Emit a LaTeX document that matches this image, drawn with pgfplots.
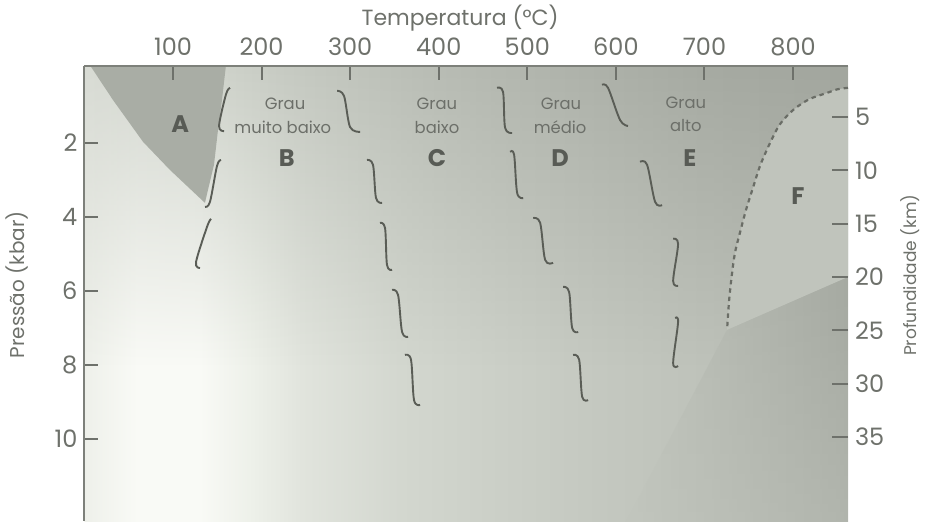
\documentclass[border=0pt]{standalone}
\usepackage{fontspec}
\setmainfont{Poppins}
\usepackage{pgfplots}
\pgfplotsset{compat=1.18}
\usetikzlibrary{fadings}

\definecolor{bg0}{HTML}{EEF0EA}
\definecolor{bg1}{HTML}{F9FAF6}
\definecolor{bg2}{HTML}{F9FAF6}
\definecolor{bg3}{HTML}{EDF0E9}
\definecolor{bg4}{HTML}{E1E4DD}
\definecolor{bg5}{HTML}{D3D7CF}
\definecolor{bg6}{HTML}{CBCFC7}
\definecolor{bg7}{HTML}{C4C8C0}
\definecolor{bg8}{HTML}{BEC2BA}
\definecolor{bg9}{HTML}{B6BAB2}
\pgfdeclarehorizontalshading{bgshade}{100bp}{color(0bp)=(bg0); color(25bp)=(bg0); color(28.48bp)=(bg1); color(32.54bp)=(bg2); color(36.02bp)=(bg3); color(39.21bp)=(bg4); color(45.65bp)=(bg5); color(52.26bp)=(bg6); color(58.64bp)=(bg7); color(65.6bp)=(bg8); color(75bp)=(bg9); color(100bp)=(bg9)}

\definecolor{tp0}{HTML}{D8DBD4}
\definecolor{tp1}{HTML}{D2D6CE}
\definecolor{tp2}{HTML}{C6CAC2}
\definecolor{tp3}{HTML}{B8BCB4}
\definecolor{tp4}{HTML}{AFB3AB}
\definecolor{tp5}{HTML}{A6AAA2}
\definecolor{tp6}{HTML}{A2A69E}
\pgfdeclarehorizontalshading{topshade}{100bp}{color(0bp)=(tp0); color(25bp)=(tp0); color(31.96bp)=(tp1); color(38.34bp)=(tp2); color(48.2bp)=(tp3); color(56.9bp)=(tp4); color(65.6bp)=(tp5); color(75bp)=(tp6); color(100bp)=(tp6)}

\tikzfading[name=fadedown, top color=transparent!0, bottom color=transparent!100]
\tikzfading[name=fadepart, top color=transparent!0, bottom color=transparent!70]

\definecolor{cA}{HTML}{A9ADA5}
\definecolor{cF}{HTML}{C0C4BC}
\definecolor{cDarkL}{HTML}{C1C5BD}
\definecolor{cDarkR}{HTML}{A6AAA2}
\definecolor{sqcol}{HTML}{5A5D56}
\definecolor{dashcol}{HTML}{6A6D66}
\definecolor{lblcol}{HTML}{6C6F69}
\definecolor{letcol}{HTML}{585B55}
\definecolor{tickcol}{HTML}{6E716B}
\definecolor{axcol}{HTML}{7D807A}

\newcommand{\fs}[1]{\fontsize{#1}{#1}\selectfont}
\tikzset{
  sqsty/.style={draw=sqcol, line width=0.95pt, smooth, tension=0.55},
  lblsty/.style={font=\fs{8.2}, text=lblcol, inner sep=0pt},
  letsty/.style={font=\fs{12}\bfseries, text=letcol, inner sep=0pt},
}
\newcommand{\sq}[4]{\addplot[sqsty, mark=none] coordinates {#1 #2 #3 #4};}

\begin{document}
\begin{tikzpicture}
\useasboundingbox (0,0) rectangle (462.5pt,260.5pt);
\begin{axis}[
  at={(42.2pt,0pt)}, anchor=south west,
  scale only axis, width=381.8pt, height=227.5pt,
  xmin=0, xmax=862, ymin=-0.08, ymax=12.22, y dir=reverse,
  axis x line*=top, axis y line*=left,
  axis line style={draw=axcol, line width=1pt, -},
  axis on top,
  xtick={100,200,...,800}, ytick={2,4,6,8,10},
  tick align=inside, major tick length=7pt,
  tick style={draw=tickcol, line width=1pt},
  /pgf/number format/assume math mode=true,
  ticklabel style={font=\fs{12}, text=tickcol},
  xticklabel style={yshift=1.5pt},
  xlabel={Temperatura (°C)},
  xlabel style={at={(axis description cs:0.492,1.105)}, anchor=center, font=\fs{11}, text=tickcol},
  ylabel={Pressão (kbar)},
  ylabel style={at={(axis description cs:-0.088,0.519)}, anchor=center, font=\fs{10}, text=tickcol},
]
% background
\addplot[draw=none, shading=bgshade, shading angle=0] coordinates {(0,-0.1) (862,-0.1) (862,12.3) (0,12.3)} -- cycle;
% darker top band
\addplot[draw=none, shading=topshade, shading angle=0, path fading=fadedown] coordinates {(0,-0.1) (862,-0.1) (862,8) (0,8)} -- cycle;
% darker area below F
\addplot[draw=none, left color=cDarkL, right color=cDarkR, path fading=fadepart] coordinates {(725.5,7.05) (862,5.62) (862,12.3) (610,12.3)} -- cycle;
% region A
\addplot[draw=none, fill=cA] coordinates {(6.3,-0.1) (32.3,0.84) (66.2,1.97) (96.6,2.73) (136.1,3.62) (139.5,3.27) (146.3,2.59) (150.8,1.65) (155.3,0.84) (159.8,-0.1)} -- cycle;
% region F
\addplot[draw=none, fill=cF] coordinates {(862,0.51) (850,0.55) (838,0.65) (818,0.82) (800,1.11) (785,1.5) (774,2.0) (763,2.6) (755,3.19) (747,3.8) (740,4.43) (735,4.9) (732,5.35) (728,6.2) (725.5,7.05) (862,5.62)} -- cycle;
% dashed boundary of F
\addplot[draw=dashcol, line width=1.1pt, dash pattern=on 2.2pt off 2pt, smooth, mark=none] coordinates {(862,0.51) (850,0.55) (838,0.65) (818,0.82) (800,1.11) (785,1.5) (774,2.0) (763,2.6) (755,3.19) (747,3.8) (740,4.43) (735,4.9) (732,5.35) (728,6.2) (725.5,7.05)};
% A/B
\sq{(164.4,0.51)}{(159.9,0.68)}{(151.97,1.54)}{(157.6,1.68)}
\sq{(154.2,2.46)}{(149.7,2.62)}{(141.8,3.59)}{(136.2,3.73)}
\sq{(142.9,4.05)}{(138.4,4.27)}{(126.0,5.22)}{(130.5,5.38)}
% B/C
\sq{(285.2,0.59)}{(293.1,0.73)}{(299.9,1.57)}{(311.2,1.70)}
\sq{(319.0,2.46)}{(325.8,2.59)}{(329.2,3.49)}{(336.0,3.62)}
\sq{(333.7,4.16)}{(339.4,4.30)}{(341.6,5.30)}{(347.3,5.43)}
\sq{(347.3,5.97)}{(354.1,6.11)}{(358.6,7.11)}{(365.4,7.24)}
\sq{(361.9,7.73)}{(368.7,7.86)}{(372.1,8.95)}{(378.9,9.08)}
% C/D
\sq{(465.8,0.51)}{(472.6,0.62)}{(474.9,1.59)}{(482.8,1.73)}
\sq{(480.6,2.24)}{(485.1,2.32)}{(488.5,3.35)}{(495.3,3.49)}
\sq{(506.6,4.03)}{(514.5,4.16)}{(520.1,5.16)}{(529.1,5.24)}
\sq{(540.4,5.89)}{(547.2,6.03)}{(550.6,7.0)}{(557.4,7.11)}
\sq{(551.7,7.73)}{(558.5,7.86)}{(561.9,8.86)}{(568.6,8.95)}
% D/E
\sq{(584.4,0.43)}{(591.1,0.51)}{(604.7,1.38)}{(613.7,1.54)}
\sq{(627.3,2.51)}{(635.2,2.59)}{(644.2,3.59)}{(652.1,3.68)}
\sq{(664.6,4.59)}{(670.2,4.73)}{(664.6,5.73)}{(670.2,5.86)}
\sq{(666.8,6.73)}{(670.2,6.84)}{(664.6,7.95)}{(670.2,8.03)}
% labels
\node[letsty] at (axis cs:108.2,1.49) {A};
\node[lblsty] at (axis cs:226.5,0.95) {Grau};
\node[lblsty] at (axis cs:224,1.59) {muito baixo};
\node[letsty] at (axis cs:228.6,2.41) {B};
\node[lblsty] at (axis cs:398,0.95) {Grau};
\node[lblsty] at (axis cs:398,1.59) {baixo};
\node[letsty] at (axis cs:398,2.41) {C};
\node[lblsty] at (axis cs:538,0.95) {Grau};
\node[lblsty] at (axis cs:537,1.57) {médio};
\node[letsty] at (axis cs:537,2.41) {D};
\node[lblsty] at (axis cs:679,0.92) {Grau};
\node[lblsty] at (axis cs:679,1.52) {alto};
\node[letsty] at (axis cs:683.6,2.41) {E};
\node[letsty] at (axis cs:805.6,3.43) {F};
\end{axis}
\begin{axis}[
  at={(42.2pt,0pt)}, anchor=south west,
  scale only axis, width=381.8pt, height=227.5pt,
  xmin=0, xmax=862, ymin=0.22, ymax=42.87, y dir=reverse,
  axis x line=none, axis y line*=right,
  y axis line style={draw=none},
  xtick=\empty, ytick={5,10,...,35},
  tick align=inside, major tick length=8pt,
  tick style={draw=tickcol, line width=1pt},
  /pgf/number format/assume math mode=true,
  ticklabel style={font=\fs{12}, text=tickcol},
  ylabel={Profundidade (km)},
  ylabel style={at={(axis description cs:1.081,0.54)}, anchor=center, font=\fs{8.5}, text=tickcol},
]
\end{axis}
\end{tikzpicture}
\end{document}
